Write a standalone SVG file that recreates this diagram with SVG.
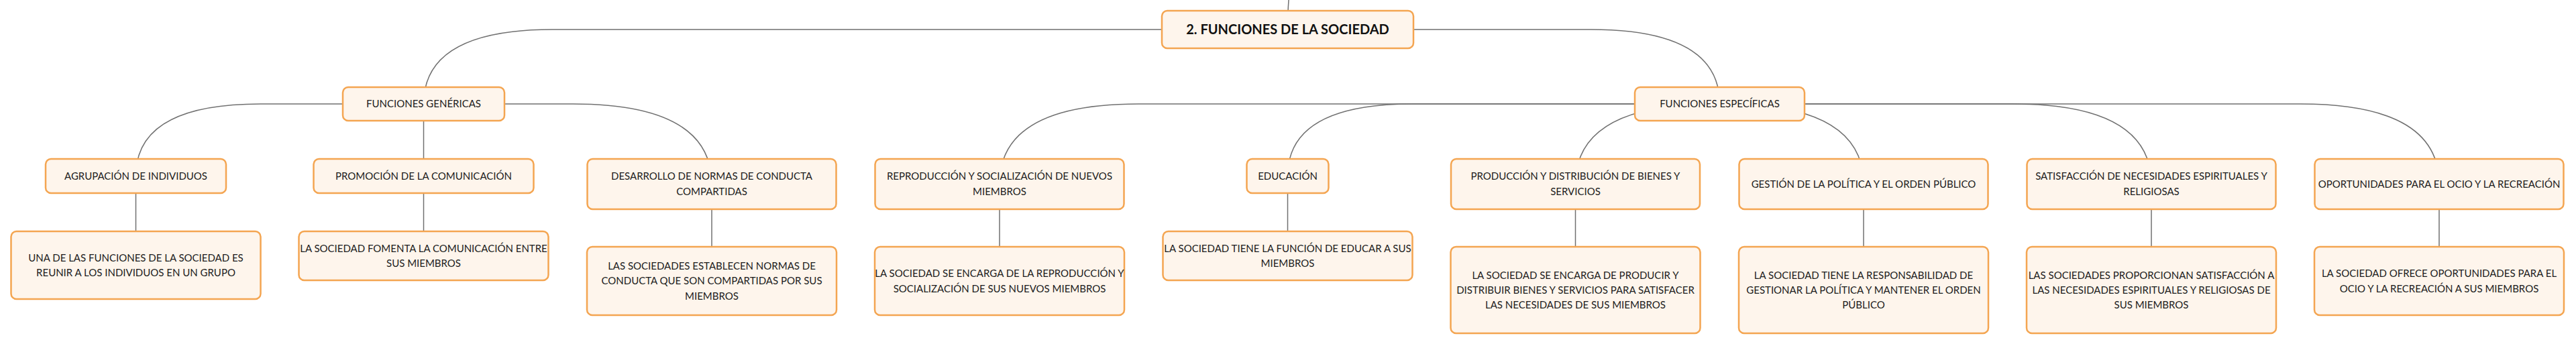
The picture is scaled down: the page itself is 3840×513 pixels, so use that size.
<svg xmlns="http://www.w3.org/2000/svg" width="3840" height="513" viewBox="0 0 3840 513">
<style>
.bg{fill:#ffffff}
.n{fill:#fef5ec;stroke:#f4a551;stroke-width:2.5}
.t{font-family:Lato,"Liberation Sans",sans-serif;font-size:15px;fill:#1c1c1c;text-anchor:middle}
.r{font-family:Lato,"Liberation Sans",sans-serif;font-size:20px;font-weight:700;fill:#111111;text-anchor:middle}
.c{fill:none;stroke:#707070;stroke-width:1.5}
</style>
<rect class="bg" x="0" y="0" width="3840" height="513"/>
<g id="connectors">
<path class="c" d="M1927 -40 Q1919.5 -10 1919.5 44"/>
<path class="c" d="M1919.5 44 H823.5 Q631.5 44 631.5 155"/>
<path class="c" d="M1919.5 44 H2371.5 Q2563.5 44 2563.5 155"/>
<path class="c" d="M631.5 155 H388.5 Q202.5 155 202.5 262.5"/>
<path class="c" d="M631.5 155 V262.5"/>
<path class="c" d="M631.5 155 H854 Q1061 155 1061 274.5"/>
<path class="c" d="M2563.5 155 H1697 Q1490 155 1490 274.5"/>
<path class="c" d="M2563.5 155 H2105.5 Q1919.5 155 1919.5 262.5"/>
<path class="c" d="M2563.5 155 H2555.5 Q2348.5 155 2348.5 274.5"/>
<path class="c" d="M2563.5 155 H2571 Q2778 155 2778 274.5"/>
<path class="c" d="M2563.5 155 H3000 Q3207 155 3207 274.5"/>
<path class="c" d="M2563.5 155 H3429 Q3636 155 3636 274.5"/>
<path class="c" d="M202.5 262.5 V395.5"/>
<path class="c" d="M631.5 262.5 V381.5"/>
<path class="c" d="M1061 274.5 V419"/>
<path class="c" d="M1490 274.5 V419"/>
<path class="c" d="M1919.5 262.5 V381.5"/>
<path class="c" d="M2348.5 274.5 V432.5"/>
<path class="c" d="M2778 274.5 V432.5"/>
<path class="c" d="M3207 274.5 V432.5"/>
<path class="c" d="M3636 274.5 V419"/>
</g>
<g id="root">
<rect class="n" x="1732" y="16" width="375" height="56" rx="8"/>
<text class="r" x="1919.5" y="51.2">2. FUNCIONES DE LA SOCIEDAD</text>
</g>
<g id="genericas">
<rect class="n" x="511" y="130" width="241" height="50" rx="8"/>
<text class="t" x="631.5" y="160.4">FUNCIONES GENÉRICAS</text>
</g>
<g id="especificas">
<rect class="n" x="2437" y="130" width="253" height="50" rx="8"/>
<text class="t" x="2563.5" y="160.4">FUNCIONES ESPECÍFICAS</text>
</g>
<g id="agrupacion">
<rect class="n" x="68" y="237" width="269" height="51" rx="8"/>
<text class="t" x="202.5" y="267.9">AGRUPACIÓN DE INDIVIDUOS</text>
</g>
<g id="promocion">
<rect class="n" x="467.5" y="237" width="328" height="51" rx="8"/>
<text class="t" x="631.5" y="267.9">PROMOCIÓN DE LA COMUNICACIÓN</text>
</g>
<g id="desarrollo">
<rect class="n" x="875.5" y="237" width="371" height="75" rx="8"/>
<text class="t" x="1061" y="268.2">DESARROLLO DE NORMAS DE CONDUCTA</text>
<text class="t" x="1061" y="290.5">COMPARTIDAS</text>
</g>
<g id="reproduccion">
<rect class="n" x="1304.5" y="237" width="371" height="75" rx="8"/>
<text class="t" x="1490" y="268.2">REPRODUCCIÓN Y SOCIALIZACIÓN DE NUEVOS</text>
<text class="t" x="1490" y="290.5">MIEMBROS</text>
</g>
<g id="educacion">
<rect class="n" x="1858.5" y="237" width="122" height="51" rx="8"/>
<text class="t" x="1919.5" y="267.9">EDUCACIÓN</text>
</g>
<g id="produccion">
<rect class="n" x="2163" y="237" width="371" height="75" rx="8"/>
<text class="t" x="2348.5" y="268.2">PRODUCCIÓN Y DISTRIBUCIÓN DE BIENES Y</text>
<text class="t" x="2348.5" y="290.5">SERVICIOS</text>
</g>
<g id="gestion">
<rect class="n" x="2592.5" y="237" width="371" height="75" rx="8"/>
<text class="t" x="2778" y="279.9">GESTIÓN DE LA POLÍTICA Y EL ORDEN PÚBLICO</text>
</g>
<g id="satisfaccion">
<rect class="n" x="3021.5" y="237" width="371" height="75" rx="8"/>
<text class="t" x="3207" y="268.2">SATISFACCIÓN DE NECESIDADES ESPIRITUALES Y</text>
<text class="t" x="3207" y="290.5">RELIGIOSAS</text>
</g>
<g id="oportunidades">
<rect class="n" x="3450.5" y="237" width="371" height="75" rx="8"/>
<text class="t" x="3636" y="279.9">OPORTUNIDADES PARA EL OCIO Y LA RECREACIÓN</text>
</g>
<g id="agrupacion-desc">
<rect class="n" x="16.5" y="345" width="372" height="101" rx="8"/>
<text class="t" x="202.5" y="389.8">UNA DE LAS FUNCIONES DE LA SOCIEDAD ES</text>
<text class="t" x="202.5" y="412.1">REUNIR A LOS INDIVIDUOS EN UN GRUPO</text>
</g>
<g id="promocion-desc">
<rect class="n" x="445.5" y="345" width="372" height="73" rx="8"/>
<text class="t" x="631.5" y="375.8">LA SOCIEDAD FOMENTA LA COMUNICACIÓN ENTRE</text>
<text class="t" x="631.5" y="398.1">SUS MIEMBROS</text>
</g>
<g id="desarrollo-desc">
<rect class="n" x="875" y="368" width="372" height="102" rx="8"/>
<text class="t" x="1061" y="402.1">LAS SOCIEDADES ESTABLECEN NORMAS DE</text>
<text class="t" x="1061" y="424.4">CONDUCTA QUE SON COMPARTIDAS POR SUS</text>
<text class="t" x="1061" y="446.7">MIEMBROS</text>
</g>
<g id="reproduccion-desc">
<rect class="n" x="1304" y="368" width="372" height="102" rx="8"/>
<text class="t" x="1490" y="413.2">LA SOCIEDAD SE ENCARGA DE LA REPRODUCCIÓN Y</text>
<text class="t" x="1490" y="435.5">SOCIALIZACIÓN DE SUS NUEVOS MIEMBROS</text>
</g>
<g id="educacion-desc">
<rect class="n" x="1733.5" y="345" width="372" height="73" rx="8"/>
<text class="t" x="1919.5" y="375.8">LA SOCIEDAD TIENE LA FUNCIÓN DE EDUCAR A SUS</text>
<text class="t" x="1919.5" y="398.1">MIEMBROS</text>
</g>
<g id="produccion-desc">
<rect class="n" x="2162.5" y="368" width="372" height="129" rx="8"/>
<text class="t" x="2348.5" y="415.6">LA SOCIEDAD SE ENCARGA DE PRODUCIR Y</text>
<text class="t" x="2348.5" y="437.9">DISTRIBUIR BIENES Y SERVICIOS PARA SATISFACER</text>
<text class="t" x="2348.5" y="460.2">LAS NECESIDADES DE SUS MIEMBROS</text>
</g>
<g id="gestion-desc">
<rect class="n" x="2592" y="368" width="372" height="129" rx="8"/>
<text class="t" x="2778" y="415.6">LA SOCIEDAD TIENE LA RESPONSABILIDAD DE</text>
<text class="t" x="2778" y="437.9">GESTIONAR LA POLÍTICA Y MANTENER EL ORDEN</text>
<text class="t" x="2778" y="460.2">PÚBLICO</text>
</g>
<g id="satisfaccion-desc">
<rect class="n" x="3021" y="368" width="372" height="129" rx="8"/>
<text class="t" x="3207" y="415.6">LAS SOCIEDADES PROPORCIONAN SATISFACCIÓN A</text>
<text class="t" x="3207" y="437.9">LAS NECESIDADES ESPIRITUALES Y RELIGIOSAS DE</text>
<text class="t" x="3207" y="460.2">SUS MIEMBROS</text>
</g>
<g id="oportunidades-desc">
<rect class="n" x="3450" y="368" width="372" height="102" rx="8"/>
<text class="t" x="3636" y="413.2">LA SOCIEDAD OFRECE OPORTUNIDADES PARA EL</text>
<text class="t" x="3636" y="435.5">OCIO Y LA RECREACIÓN A SUS MIEMBROS</text>
</g>
</svg>
